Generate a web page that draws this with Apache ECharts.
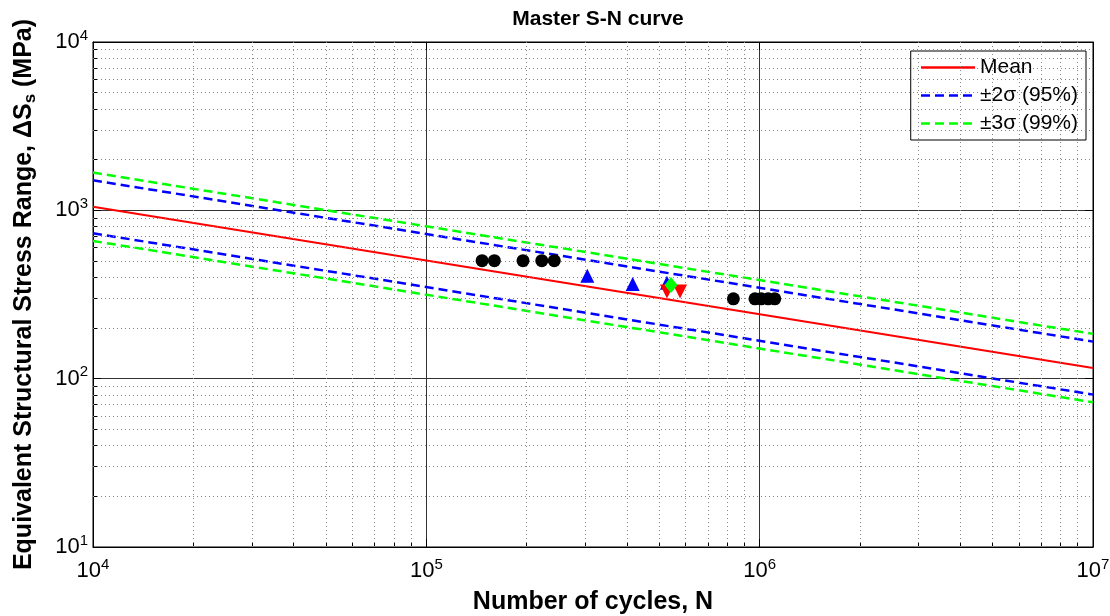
<!DOCTYPE html>
<html>
<head>
    <meta charset='utf-8'>
    <script src='https://cdn.jsdelivr.net/npm/echarts@6/dist/echarts.min.js'></script>
    <style>
        html, body, #main {
            width: 100%;
            height: 100%;
            margin: 0;
            background: #fff;
        }
    </style>
</head>
<body>
<div id='main'></div>
<script>
    // line end points at N = 1e4 and N = 1e7
    var lineN = [1e4, 1e7];
    var meanS = [1050, 115.6];
    var up2S = [1509, 166];
    var lo2S = [731, 80.4];
    var up3S = [1676, 184.5];
    var lo3S = [658, 72.4];

    // test points
    var circleN = [1.47e5, 1.60e5, 1.95e5, 2.22e5, 2.42e5, 8.34e5, 9.68e5, 1.01e6, 1.06e6, 1.11e6];
    var circleS = [502, 502, 502, 502, 502, 298, 298, 298, 298, 298];
    var triUpN = [3.04e5, 4.16e5, 5.27e5];
    var triUpS = [408, 365, 371];
    var triDownN = [5.27e5, 5.77e5];
    var triDownS = [329, 329];
    var diamondN = [5.42e5];
    var diamondS = [360];

    var xTicks = [1e4, 1e5, 1e6, 1e7];
    var yTicks = [10, 100, 1000, 10000];

    function pairs(xs, ys) {
        var res = [];
        for (var i = 0; i < xs.length; i++) res.push([xs[i], ys[i]]);
        return res;
    }

    // minor grid lines at 2..9 times each decade
    function minorLines(ticks, key) {
        var res = [];
        for (var i = 0; i < ticks.length - 1; i++) {
            for (var k = 2; k <= 9; k++) {
                var o = {};
                o[key] = ticks[i] * k;
                res.push(o);
            }
        }
        return res;
    }

    function powLabel(v) {
        return '{b|10}{s|' + Math.round(Math.log10(v)) + '}';
    }
    var labelRich = {
        b: { fontSize: 22, fontFamily: 'Liberation Sans', color: '#000' },
        s: { fontSize: 15, fontFamily: 'Liberation Sans', color: '#000', verticalAlign: 'top', padding: [0, 0, 13, 0] }
    };
    var titleFont = { fontSize: 25, fontWeight: 'bold', color: '#000', fontFamily: 'Liberation Sans' };

    var red = '#ff0000', blue = '#0000ff', green = '#00ff00';
    var dash = [9, 5];

    function boxAxis(pos, lo, hi) {
        return {
            type: 'log', logBase: 10, min: lo, max: hi, position: pos,
            axisLine: { show: true, lineStyle: { color: '#000' } },
            axisTick: { show: true, inside: true, length: 8, lineStyle: { color: '#000' } },
            axisLabel: { show: false },
            splitLine: { show: false }
        };
    }

    var myChart = echarts.init(document.getElementById('main'));
    myChart.setOption({
        backgroundColor: '#fff',
        animation: false,
        title: {
            text: 'Master S-N curve',
            left: 593,
            textAlign: 'center',
            top: 4,
            textStyle: { fontSize: 21, fontWeight: 'bold', color: '#000', fontFamily: 'Liberation Sans' }
        },
        legend: {
            right: 24,
            top: 51,
            orient: 'vertical',
            backgroundColor: '#fff',
            borderColor: '#000',
            borderWidth: 1,
            padding: [6, 8, 6, 9],
            itemGap: 7,
            itemWidth: 54,
            itemHeight: 14,
            itemStyle: { opacity: 0 },
            lineStyle: { width: 2.5 },
            textStyle: { fontSize: 21, color: '#000', fontFamily: 'Liberation Sans' },
            data: ['Mean', '\u00b12\u03c3 (95%)', '\u00b13\u03c3 (99%)']
        },
        grid: {
            left: 93,
            right: 17,
            top: 42,
            bottom: 69,
            outerBoundsMode: 'none',
            show: true,
            borderColor: '#000',
            borderWidth: 1
        },
        xAxis: [{
            type: 'log',
            logBase: 10,
            min: 1e4,
            max: 1e7,
            name: 'Number of cycles, N',
            nameLocation: 'middle',
            nameGap: 43,
            nameTextStyle: titleFont,
            axisLine: { lineStyle: { color: '#000' } },
            axisTick: { inside: true, length: 8, lineStyle: { color: '#000' } },
            minorTick: { show: true, splitNumber: 9, length: 5, lineStyle: { color: '#000' } },
            axisLabel: { formatter: powLabel, rich: labelRich, margin: 10 },
            splitLine: { show: true, lineStyle: { color: '#333', width: 1 } }
        }, boxAxis('top', 1e4, 1e7)],
        yAxis: [{
            type: 'log',
            logBase: 10,
            min: 10,
            max: 1e4,
            name: 'Equivalent Structural Stress Range, \u0394S{sub|s} (MPa)',
            nameLocation: 'middle',
            nameGap: 54,
            nameTextStyle: {
                fontSize: 25, fontWeight: 'bold', color: '#000', fontFamily: 'Liberation Sans',
                rich: { sub: { fontSize: 17, fontWeight: 'bold', color: '#000', fontFamily: 'Liberation Sans', verticalAlign: 'bottom', padding: [12, 0, 0, 0] } }
            },
            axisLine: { lineStyle: { color: '#000' } },
            axisTick: { inside: true, length: 8, lineStyle: { color: '#000' } },
            minorTick: { show: true, splitNumber: 9, length: 5, lineStyle: { color: '#000' } },
            axisLabel: { formatter: powLabel, rich: labelRich, margin: 5 },
            splitLine: { show: true, lineStyle: { color: '#333', width: 1 } }
        }, boxAxis('right', 10, 1e4)],
        series: [
            {
                name: 'minor-grid',
                type: 'line',
                data: [],
                silent: true,
                z: 1,
                markLine: {
                    silent: true,
                    symbol: 'none',
                    label: { show: false },
                    lineStyle: { color: '#888', type: [1, 3], width: 1 },
                    data: minorLines(xTicks, 'xAxis').concat(minorLines(yTicks, 'yAxis'))
                }
            },
            {
                name: '\u00b13\u03c3 (99%)', type: 'line', symbol: 'none', data: pairs(lineN, up3S),
                lineStyle: { color: green, width: 2.5, type: dash }, itemStyle: { color: green }
            },
            {
                name: '\u00b13\u03c3 (99%)', type: 'line', symbol: 'none', data: pairs(lineN, lo3S),
                lineStyle: { color: green, width: 2.5, type: dash }, itemStyle: { color: green }
            },
            {
                name: '\u00b12\u03c3 (95%)', type: 'line', symbol: 'none', data: pairs(lineN, up2S),
                lineStyle: { color: blue, width: 2.5, type: dash }, itemStyle: { color: blue }
            },
            {
                name: '\u00b12\u03c3 (95%)', type: 'line', symbol: 'none', data: pairs(lineN, lo2S),
                lineStyle: { color: blue, width: 2.5, type: dash }, itemStyle: { color: blue }
            },
            {
                name: 'Mean', type: 'line', symbol: 'none', data: pairs(lineN, meanS),
                lineStyle: { color: red, width: 2 }, itemStyle: { color: red }
            },
            {
                name: 'circles', type: 'scatter', symbol: 'circle', symbolSize: 13, z: 5,
                data: pairs(circleN, circleS), itemStyle: { color: '#000', opacity: 1 }
            },
            {
                name: 'triUp', type: 'scatter', symbol: 'triangle', symbolSize: 14, z: 5,
                data: pairs(triUpN, triUpS), itemStyle: { color: blue, opacity: 1 }
            },
            {
                name: 'triDown', type: 'scatter', symbol: 'triangle', symbolRotate: 180, symbolSize: 14, z: 5,
                data: pairs(triDownN, triDownS), itemStyle: { color: red, opacity: 1 }
            },
            {
                name: 'diamond', type: 'scatter', symbol: 'diamond', symbolSize: [13, 16], z: 5,
                data: pairs(diamondN, diamondS), itemStyle: { color: green, opacity: 1 }
            }
        ]
    });
</script>
</body>
</html>
